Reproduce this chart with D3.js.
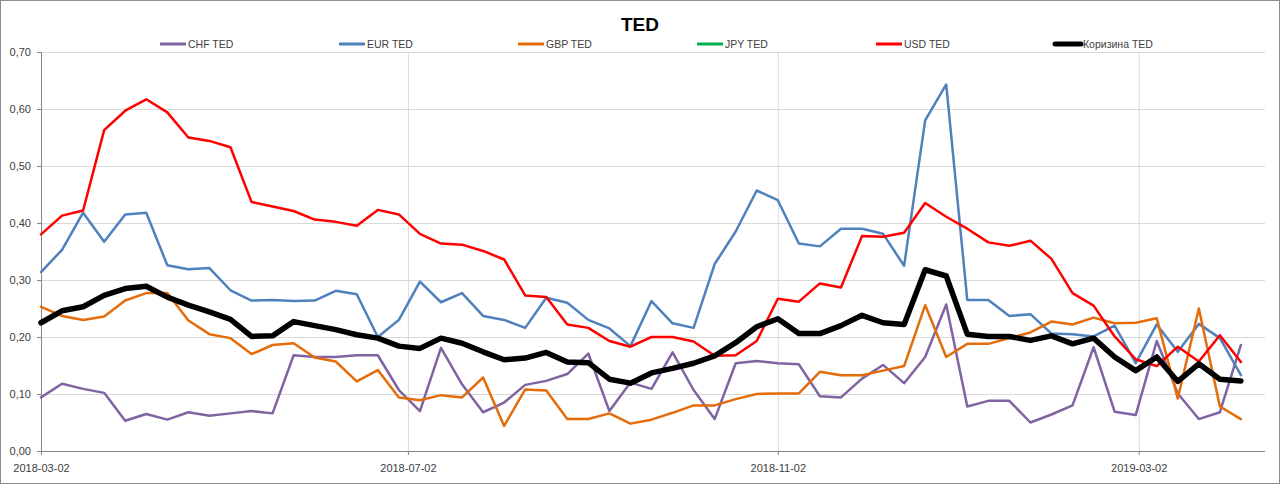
<!DOCTYPE html>
<html>
<head>
<meta charset="utf-8">
<script src="https://cdn.jsdelivr.net/npm/d3@7"></script>
<style>
  body { margin: 0; background: #fff; }
  text { font-family: "Liberation Sans", Arial, sans-serif; fill: #404040; }
</style>
</head>
<body>
<svg id="chart" width="1280" height="484"></svg>
<script>
// weekly dates (Fridays)
let dates = [
  "2018-03-02","2018-03-09","2018-03-16","2018-03-23","2018-03-30","2018-04-06","2018-04-13","2018-04-20",
  "2018-04-27","2018-05-04","2018-05-11","2018-05-18","2018-05-25","2018-06-01","2018-06-08","2018-06-15",
  "2018-06-22","2018-06-29","2018-07-06","2018-07-13","2018-07-20","2018-07-27","2018-08-03","2018-08-10",
  "2018-08-17","2018-08-24","2018-08-31","2018-09-07","2018-09-14","2018-09-21","2018-09-28","2018-10-05",
  "2018-10-12","2018-10-19","2018-10-26","2018-11-02","2018-11-09","2018-11-16","2018-11-23","2018-11-30",
  "2018-12-07","2018-12-14","2018-12-21","2018-12-28","2019-01-04","2019-01-11","2019-01-18","2019-01-25",
  "2019-02-01","2019-02-08","2019-02-15","2019-02-22","2019-03-01","2019-03-08","2019-03-15","2019-03-22",
  "2019-03-29","2019-04-05"
];

let chf = [0.094,0.118,0.109,0.102,0.053,0.065,0.055,0.068,0.062,0.066,0.070,0.066,0.168,0.165,0.165,0.168,
  0.168,0.107,0.070,0.181,0.117,0.068,0.085,0.116,0.123,0.135,0.171,0.070,0.120,0.109,0.173,0.107,
  0.056,0.154,0.158,0.154,0.152,0.096,0.094,0.127,0.151,0.119,0.165,0.257,0.078,0.088,0.088,0.050,
  0.064,0.080,0.182,0.069,0.063,0.193,0.101,0.056,0.068,0.186];

let eur = [0.314,0.353,0.418,0.367,0.415,0.418,0.326,0.319,0.321,0.282,0.264,0.265,0.263,0.264,0.281,0.275,
  0.200,0.230,0.297,0.261,0.277,0.237,0.230,0.216,0.269,0.260,0.230,0.215,0.184,0.263,0.224,0.216,
  0.328,0.385,0.457,0.440,0.364,0.359,0.390,0.390,0.381,0.325,0.580,0.643,0.265,0.265,0.237,0.240,
  0.206,0.205,0.201,0.220,0.154,0.222,0.174,0.223,0.198,0.133];

let gbp = [0.253,0.237,0.230,0.236,0.264,0.277,0.277,0.229,0.205,0.198,0.170,0.186,0.189,0.164,0.157,0.122,
  0.142,0.094,0.089,0.098,0.094,0.129,0.044,0.108,0.106,0.056,0.056,0.066,0.048,0.055,0.067,0.080,
  0.080,0.091,0.100,0.101,0.101,0.139,0.133,0.133,0.141,0.149,0.256,0.165,0.188,0.188,0.198,0.208,
  0.227,0.222,0.234,0.224,0.225,0.233,0.092,0.250,0.078,0.056];

let jpy = [];

let usd = [0.380,0.413,0.422,0.563,0.597,0.617,0.594,0.550,0.544,0.533,0.437,0.429,0.421,0.406,0.402,0.395,
  0.423,0.415,0.381,0.364,0.362,0.351,0.336,0.273,0.270,0.222,0.216,0.193,0.183,0.200,0.200,0.192,
  0.167,0.168,0.193,0.267,0.262,0.294,0.287,0.377,0.376,0.383,0.435,0.411,0.390,0.366,0.360,0.369,
  0.337,0.277,0.255,0.201,0.161,0.149,0.183,0.157,0.203,0.156];

let basket = [0.225,0.246,0.253,0.273,0.285,0.289,0.270,0.256,0.244,0.231,0.201,0.202,0.227,0.220,0.213,0.204,
  0.198,0.184,0.180,0.198,0.189,0.174,0.160,0.163,0.173,0.156,0.155,0.126,0.119,0.137,0.145,0.154,
  0.167,0.190,0.218,0.232,0.206,0.206,0.220,0.238,0.225,0.222,0.318,0.307,0.205,0.201,0.201,0.194,
  0.202,0.188,0.198,0.165,0.141,0.165,0.122,0.153,0.126,0.123];

let seriesNames = ["CHF TED","EUR TED","GBP TED","JPY TED","USD TED","Коризина TED"];
let seriesValues = [chf, eur, gbp, jpy, usd, basket];
let seriesColors = ["#8064A2","#4F81BD","#E46C0A","#00B050","#FF0000","#000000"];
let seriesWidths = [2.5, 2.5, 2.5, 2.5, 2.5, 5.5];

let yTicks = [0, 0.1, 0.2, 0.3, 0.4, 0.5, 0.6, 0.7];
let xTickLabels = ["2018-03-02","2018-07-02","2018-11-02","2019-03-02"];

let parse = d3.timeParse("%Y-%m-%d");
let svg = d3.select("#chart");

let plotLeft = 41, plotRight = 1265, plotTop = 52, plotBottom = 451;

let x = d3.scaleTime()
    .domain([parse("2018-03-02"), parse("2019-04-13")])
    .range([plotLeft, plotRight]);
let y = d3.scaleLinear().domain([0, 0.7]).range([plotBottom, plotTop]);

// outer border
svg.append("rect")
    .attr("x", 0.5).attr("y", 0.5)
    .attr("width", 1279).attr("height", 483)
    .attr("fill", "#fff")
    .attr("stroke", "#8c8c8c");

// horizontal grid
svg.append("g")
    .attr("transform", "translate(" + plotLeft + ",0)")
    .call(d3.axisLeft(y).tickValues(yTicks).tickSize(-(plotRight - plotLeft)).tickFormat(""))
    .call(g => g.select(".domain").remove())
    .call(g => g.selectAll("line").attr("stroke", "#d9d9d9"));

// vertical grid
svg.append("g")
    .attr("transform", "translate(0," + plotBottom + ")")
    .call(d3.axisBottom(x).tickValues(xTickLabels.map(parse)).tickSize(-(plotBottom - plotTop)).tickFormat(""))
    .call(g => g.select(".domain").remove())
    .call(g => g.selectAll("line").attr("stroke", "#d9d9d9"));

// y axis
let fmt = d3.format(".2f");
svg.append("g")
    .attr("transform", "translate(" + plotLeft + ",0)")
    .call(d3.axisLeft(y).tickValues(yTicks).tickSize(4).tickPadding(6)
        .tickFormat(d => fmt(d).replace(".", ",")))
    .call(g => g.select(".domain").attr("stroke", "#868686"))
    .call(g => g.selectAll("line").attr("stroke", "#868686"))
    .call(g => g.selectAll("text").style("font-size", "11px").attr("fill", "#404040")
        .style("font-family", "'Liberation Sans', Arial, sans-serif"));

// x axis
svg.append("g")
    .attr("transform", "translate(0," + plotBottom + ")")
    .call(d3.axisBottom(x).tickValues(xTickLabels.map(parse)).tickSize(4).tickPadding(9)
        .tickFormat(d3.timeFormat("%Y-%m-%d")))
    .call(g => g.select(".domain").attr("stroke", "#868686").attr("d", "M" + plotLeft + ",0.5H" + plotRight))
    .call(g => g.selectAll("line").attr("stroke", "#868686"))
    .call(g => g.selectAll("text").style("font-size", "11px").attr("fill", "#404040")
        .style("font-family", "'Liberation Sans', Arial, sans-serif"));

// lines
let line = d3.line()
    .x((d, i) => x(parse(dates[i])))
    .y(d => y(d));

seriesValues.forEach(function(vals, k) {
    if (vals.length == 0) {
        return;
    }
    svg.append("path")
        .datum(vals)
        .attr("d", line)
        .attr("fill", "none")
        .attr("stroke", seriesColors[k])
        .attr("stroke-width", seriesWidths[k])
        .attr("stroke-linejoin", "round")
        .attr("stroke-linecap", "round");
});

// title
svg.append("text")
    .attr("x", 640).attr("y", 31)
    .attr("text-anchor", "middle")
    .style("font-size", "19px")
    .style("font-weight", "bold")
    .style("fill", "#000")
    .text("TED");

// legend
let legend = svg.append("g");
seriesNames.forEach(function(name, k) {
    let lx = 160 + k * 179;
    legend.append("line")
        .attr("x1", lx).attr("y1", 44)
        .attr("x2", lx + 26).attr("y2", 44)
        .attr("stroke", seriesColors[k])
        .attr("stroke-width", k == 5 ? 5 : 3)
        .attr("stroke-linecap", k == 5 ? "round" : "butt");
    legend.append("text")
        .attr("x", lx + 28).attr("y", 48)
        .style("font-size", "10.5px")
        .text(name);
});
</script>
</body>
</html>
